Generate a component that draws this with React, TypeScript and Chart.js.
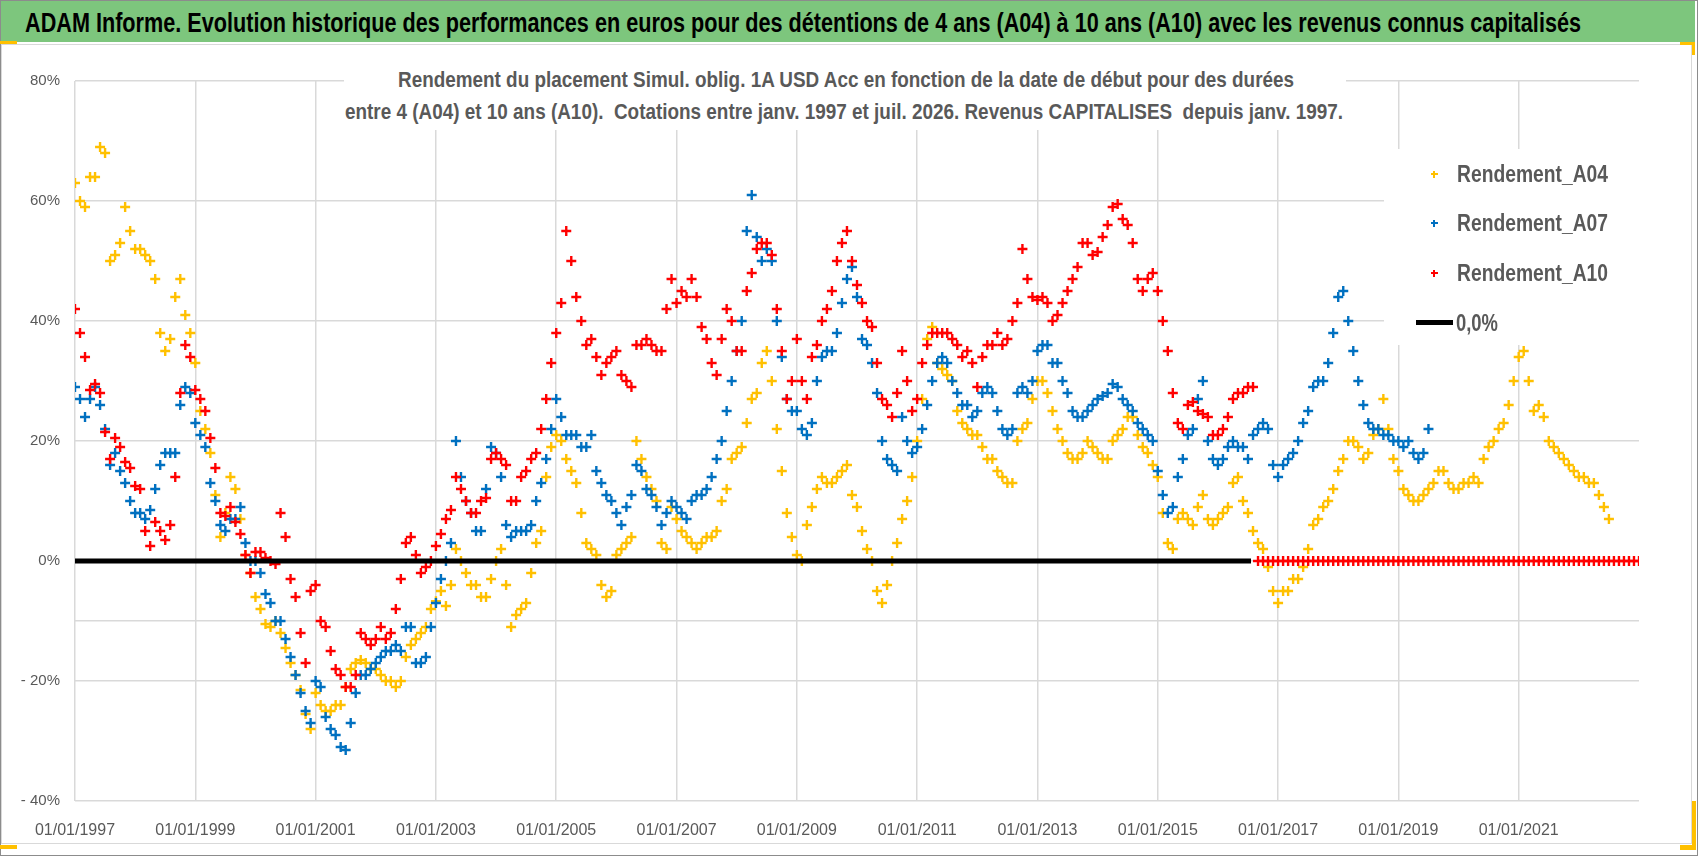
import { useEffect, useRef } from 'react'
import { Chart, registerables } from 'chart.js'

Chart.register(...registerables)

const FONT = "'Liberation Sans', Arial, sans-serif"
const GREY_TEXT = '#595959'
const GRID = '#D9D9D9'

// monthly samples, first value = janv. 1997
const START_YEAR = 1997
const X_MIN = 1997
const X_MAX = 2023
const X_TICK_YEARS = [1997, 1999, 2001, 2003, 2005, 2007, 2009, 2011, 2013, 2015, 2017, 2019, 2021]
const Y_GRID_VALUES = [-40, -20, -10, 0, 20, 40, 60, 80]
const Y_LABEL_VALUES = [-40, -20, 0, 20, 40, 60, 80]

const A04 = [
  63, 60, 59, 64, 64, 69, 68, 50, 51, 53, 59, 55,
  52, 52, 51, 50, 47, 38, 35, 37, 44, 47, 41, 38,
  33, 25, 22, 18, 11, 4, 8, 14, 12, 7, 1, -2,
  -6, -8, -10.5, -11, -10, -12, -14.5, -17, -19, -21.5, -25.5, -28,
  -22, -24, -25, -25, -24, -24, -21, -18, -17, -16.5, -17, -18,
  -18, -19, -20, -20, -21, -20, -16, -14, -13, -12, -11, -8,
  -6.7, -5, -7.5, -4, 2, 0, -2, -4, -4, -6, -6, -3,
  0, 2, -4, -11, -9, -8, -7, -2, 3, 5, 14, 19,
  21, 20, 17, 15, 13, 8, 3, 2, 1, -4, -6, -5,
  1, 2, 3, 4, 20, 17, 14, 12, 10, 3, 2, 9,
  7, 5, 4, 3, 2, 3, 4, 4, 5, 10, 12, 17,
  18, 19, 23, 27, 28, 33, 35, 30, 22, 15, 8, 4,
  1, 0, 6, 9, 12, 14, 13, 13, 14, 15, 16, 11,
  9, 5, 2, 0, -5, -7, -4, 0, 3, 7, 10, 14,
  20, 27, 37, 39, 33, 32, 31, 30, 25, 23, 22, 21,
  21, 19, 17, 17, 15, 14, 13, 13, 20, 22, 23, 27,
  30, 30, 28, 25, 22, 20, 18, 17, 17, 18, 20, 19,
  18, 17, 17, 20, 21, 22, 24, 24, 21, 19, 18, 16,
  14, 8, 3, 2, 7, 8, 7, 6, 9, 11, 7, 6,
  7, 8, 9, 13, 14, 10, 8, 5, 3, 2, -1, -5,
  -7, -5, -5, -3, -3, -1, 2, 6, 7, 9, 10, 12,
  15, 17, 20, 20, 19, 17, 18, 21, 22, 27, 22, 17,
  15, 12, 11, 10, 10, 11, 12, 13, 15, 15, 13, 12,
  12, 13, 13, 14, 13, 17, 19, 20, 22, 23, 26, 30,
  34, 35, 30, 25, 26, 24, 20, 19, 18, 17, 16, 15,
  14, 14, 13, 13, 11, 9, 7,
]

const A07 = [
  29, 27, 24, 27, 29, 26, 22, 16, 18, 15, 13, 10,
  8, 8, 7, 8.5, 12, 16, 18, 18, 18, 26, 29, 28,
  23, 21, 19, 13, 10, 6, 5, 7, 7, 9, 3, 0,
  0, -2, -5.5, -7, -10, -10, -13, -16, -19, -22, -25, -27,
  -20, -21, -26, -28, -29, -31, -31.5, -27, -22, -19, -19, -18,
  -17, -16, -15, -15, -14, -15, -11, -11, -17, -17, -16, -11,
  -7, -3, 0, 3, 20, 14, 10, 8, 5, 5, 12, 19,
  18, 14, 6, 4, 5, 5, 5, 6, 10, 13, 17, 22,
  27, 24, 21, 21, 21, 19, 19, 21, 15, 13, 11, 10,
  8, 6, 9, 11, 16, 15, 12, 11, 9, 6, 8, 10,
  9, 8, 7, 10, 11, 11, 12, 14, 17, 20, 25, 30,
  35, 40, 55, 61, 54, 50, 52, 50, 40, 34, 27, 25,
  25, 22, 21, 23, 30, 34, 35, 35, 38, 43, 47, 49,
  44, 37, 36, 33, 28, 20, 17, 16, 15, 24, 20, 18,
  19, 22, 26, 30, 33, 34, 33, 30, 28, 26, 26, 24,
  25, 28, 29, 28, 25, 22, 21, 22, 28, 29, 28, 30,
  35, 36, 36, 33, 33, 30, 28, 25, 24, 24, 25, 26,
  27, 27.5, 28, 29.5, 29, 27, 26, 25, 23, 22, 21, 20,
  15, 11, 8, 9, 14, 17, 21, 22, 27, 30, 20, 17,
  16, 17, 19, 20, 19, 19, 17, 21, 22, 23, 22, 16,
  14, 16, 17, 18, 20, 23, 25, 29, 30, 30, 33, 38,
  44, 45, 40, 35, 30, 26, 23, 22, 22, 21, 21, 20,
  20, 19, 20, 18, 17, 18, 22,
]

const A10 = [
  42, 38, 34, 28.5, 29.5, 28, 21.5, 17, 20.5, 19, 16.5, 15.5,
  12.5, 12, 5, 2.5, 6.5, 5, 3.5, 6, 14, 28, 36, 34,
  28.5, 27, 25, 20.5, 15.5, 8, 7.5, 9, 6.5, 4.5, 1, -2,
  1.5, 1.5, 0.5, 0, -0.5, 8, 4, -3, -6, -12, -17, -5,
  -4, -10, -11, -15, -18, -19, -21, -21, -19, -12, -13, -14,
  -13, -11, -13, -12, -8, -3, 3, 4, 1, -2, -1, 0,
  2.5, 4.5, 7, 8.5, 14, 12, 10, 8, 8, 10, 10.5, 17,
  18, 17, 16, 10, 10, 14, 15, 17, 18, 22, 27, 33,
  38, 43, 55, 50, 44, 40, 36, 37, 34, 31, 33, 34,
  35, 31, 30, 29, 36, 36, 37, 36, 35, 35, 42, 47,
  43, 45, 44, 47, 44, 39, 37, 33, 31, 37, 42, 40,
  35, 35, 45, 48, 52, 53, 53, 51, 42, 35, 27, 30,
  37, 30, 27, 34, 36, 40, 42, 45, 50, 53, 55, 50,
  46, 43, 40, 39, 33, 27, 26, 24, 28, 35, 30, 25,
  27, 33, 36, 38, 38, 38, 38, 37, 36, 34, 35, 33,
  29, 34, 36, 36, 38, 36, 37, 40, 43, 52, 47, 44,
  43.5, 44, 43, 40, 41, 43, 45, 47, 49, 53, 53, 51,
  51.5, 54, 56, 59, 59.5, 57, 56, 53, 47, 45, 47, 48,
  45, 40, 35, 28, 23, 22, 26, 26.5, 25, 24.5, 24, 21,
  21, 22, 24, 27, 28, 28, 29, 29, 0, 0, 0, 0,
  0, 0, 0, 0, 0, 0, 0, 0, 0, 0, 0, 0,
  0, 0, 0, 0, 0, 0, 0, 0, 0, 0, 0, 0,
  0, 0, 0, 0, 0, 0, 0, 0, 0, 0, 0, 0,
  0, 0, 0, 0, 0, 0, 0, 0, 0, 0, 0, 0,
  0, 0, 0, 0, 0, 0, 0, 0, 0, 0, 0, 0,
  0, 0, 0, 0, 0, 0, 0, 0, 0, 0, 0, 0,
  0,
]

const ZERO_LINE_X = [1997, 2016.55]
const ZERO_LINE_Y = [0, 0]

const SERIES = [
  { label: 'Rendement_A04', data: A04, color: '#FFC000' },
  { label: 'Rendement_A07', data: A07, color: '#0070C0' },
  { label: 'Rendement_A10', data: A10, color: '#FF0000' },
]

const HEADER =
  'ADAM Informe. Evolution historique des performances en euros pour des détentions de 4 ans (A04) à 10 ans (A10) avec les revenus connus capitalisés'
const TITLE_1 =
  'Rendement du placement Simul. oblig. 1A USD Acc en fonction de la date de début pour des durées'
const TITLE_2 =
  'entre 4 (A04) et 10 ans (A10).  Cotations entre janv. 1997 et juil. 2026. Revenus CAPITALISES  depuis janv. 1997.'

const pctLabel = (v: number) => (v < 0 ? `- ${-v}%` : `${v}%`)

// text squeezed horizontally to the width it has in the original (narrow font)
function FitText(props: { text: string; left: number; center: number; width: number; size: number; color: string }) {
  const ref = useRef<HTMLSpanElement>(null)
  useEffect(() => {
    const el = ref.current
    if (!el) return
    el.style.transform = 'none'
    const w = el.getBoundingClientRect().width
    if (w > 0) el.style.transform = `scaleX(${props.width / w})`
  }, [props.text, props.width])
  return (
    <span
      ref={ref}
      style={{
        position: 'absolute',
        left: props.left,
        top: props.center - props.size / 2,
        fontFamily: FONT,
        fontWeight: 'bold',
        fontSize: props.size,
        lineHeight: `${props.size}px`,
        color: props.color,
        whiteSpace: 'pre',
        transformOrigin: '0 50%',
      }}
    >
      {props.text}
    </span>
  )
}

function Plus(props: { x: number; y: number; color: string }) {
  return (
    <>
      <div style={{ position: 'absolute', left: props.x - 3, top: props.y - 1, width: 7, height: 2, background: props.color }} />
      <div style={{ position: 'absolute', left: props.x - 1, top: props.y - 3, width: 2, height: 7, background: props.color }} />
    </>
  )
}

export default function App() {
  const canvasRef = useRef<HTMLCanvasElement>(null)

  useEffect(() => {
    if (!canvasRef.current) return
    const toPoints = (arr: number[]) => arr.map((v, i) => ({ x: START_YEAR + i / 12, y: v }))

    const chart = new Chart(canvasRef.current, {
      type: 'scatter',
      data: {
        datasets: [
          {
            type: 'line',
            label: '0,0%',
            data: ZERO_LINE_X.map((x, i) => ({ x, y: ZERO_LINE_Y[i] })),
            borderColor: '#000000',
            borderWidth: 5,
            pointRadius: 0,
            order: 0,
          },
          ...SERIES.map((s, i) => ({
            label: s.label,
            data: toPoints(s.data),
            pointStyle: 'cross' as const,
            pointRadius: 5,
            pointBorderWidth: 2.4,
            borderColor: s.color,
            backgroundColor: s.color,
            order: 3 - i,
          })),
        ],
      },
      options: {
        animation: false,
        responsive: false,
        layout: { padding: { top: 81, right: 59, left: 0, bottom: 0 } },
        plugins: { legend: { display: false }, title: { display: false }, tooltip: { enabled: false } },
        scales: {
          x: {
            type: 'linear',
            min: X_MIN,
            max: X_MAX,
            afterBuildTicks: (s: any) => {
              s.ticks = X_TICK_YEARS.map((v) => ({ value: v }))
            },
            afterFit: (s: any) => {
              s.height = 55
            },
            grid: { color: GRID, lineWidth: 1.5, drawTicks: false },
            border: { display: false },
            ticks: {
              autoSkip: false,
              maxRotation: 0,
              padding: 20,
              color: GREY_TEXT,
              font: { family: FONT, size: 16 },
              callback: (v: any) => `01/01/${v}`,
            },
          },
          y: {
            min: -40,
            max: 80,
            afterBuildTicks: (s: any) => {
              s.ticks = Y_GRID_VALUES.map((v) => ({ value: v }))
            },
            afterFit: (s: any) => {
              s.width = 75
            },
            grid: { color: GRID, lineWidth: 1.5, drawTicks: false },
            border: { display: false },
            ticks: {
              padding: 15,
              color: GREY_TEXT,
              font: { family: FONT, size: 15 },
              callback: (v: any) => (Y_LABEL_VALUES.includes(v) ? pctLabel(v) : ''),
            },
          },
        },
      },
    })

    return () => {
      chart.destroy()
    }
  }, [])

  const legendRows = [174, 223, 273]

  return (
    <div style={{ position: 'fixed', left: 0, top: 0, width: 1698, height: 856, background: '#fff', overflow: 'hidden' }}>
      <canvas ref={canvasRef} width={1698} height={856} style={{ position: 'absolute', left: 0, top: 0 }} />

      {/* frame */}
      <div style={{ position: 'absolute', left: 0, top: 0, width: 1698, height: 856, border: '1px solid #8C8C8C', boxSizing: 'border-box' }} />
      <div style={{ position: 'absolute', left: 1, top: 44, width: 1691, height: 800, border: '1px solid #D9D9D9', boxSizing: 'border-box' }} />

      {/* header band */}
      <div style={{ position: 'absolute', left: 1, top: 1, width: 1694, height: 41, background: '#7DC67D' }} />
      <FitText text={HEADER} left={25} center={23} width={1556} size={28} color="#000" />

      {/* excel handles */}
      <div style={{ position: 'absolute', left: 0, top: 41, width: 17, height: 3, background: '#FFC000' }} />
      <div style={{ position: 'absolute', left: 1680, top: 42, width: 15, height: 3, background: '#FFC000' }} />
      <div style={{ position: 'absolute', left: 1692, top: 42, width: 3, height: 13, background: '#FFC000' }} />
      <div style={{ position: 'absolute', left: 1692, top: 801, width: 4, height: 49, background: '#FFC000' }} />
      <div style={{ position: 'absolute', left: 1680, top: 845, width: 16, height: 5, background: '#FFC000' }} />
      <div style={{ position: 'absolute', left: 0, top: 845, width: 17, height: 4, background: '#FFC000' }} />

      {/* chart title */}
      <div style={{ position: 'absolute', left: 344, top: 57, width: 1002, height: 73, background: '#fff' }} />
      <FitText text={TITLE_1} left={398} center={80} width={896} size={22} color={GREY_TEXT} />
      <FitText text={TITLE_2} left={345} center={112} width={998} size={22} color={GREY_TEXT} />

      {/* legend */}
      <div style={{ position: 'absolute', left: 1384, top: 149, width: 255, height: 196, background: '#fff' }} />
      {SERIES.map((s, i) => (
        <div key={s.label}>
          <Plus x={1434} y={legendRows[i]} color={s.color} />
          <FitText text={s.label} left={1457} center={legendRows[i]} width={151} size={24} color={GREY_TEXT} />
        </div>
      ))}
      <div style={{ position: 'absolute', left: 1416, top: 320, width: 37, height: 5, background: '#000' }} />
      <FitText text="0,0%" left={1456} center={323} width={42} size={24} color={GREY_TEXT} />
    </div>
  )
}
